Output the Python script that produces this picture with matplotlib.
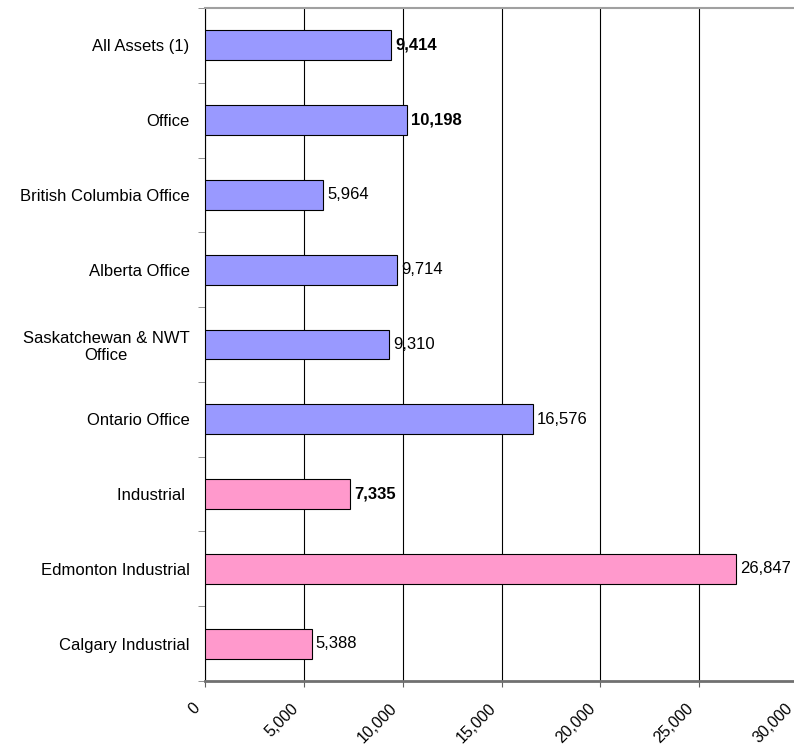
import matplotlib.pyplot as plt
import matplotlib.transforms as mtransforms
import numpy as np

# data
categories = ["All Assets (1)", "Office", "British Columbia Office", "Alberta Office",
              "Saskatchewan & NWT\nOffice", "Ontario Office", "Industrial ",
              "Edmonton Industrial", "Calgary Industrial"]
values = [9414, 10198, 5964, 9714, 9310, 16576, 7335, 26847, 5388]
groups = ["office", "office", "office", "office", "office", "office",
          "industrial", "industrial", "industrial"]
bold_rows = ["All Assets (1)", "Office", "Industrial "]
x_ticks = [0, 5000, 10000, 15000, 20000, 25000, 30000]

colors = {"office": "#9999FF", "industrial": "#FF99CC"}

plt.rcParams["font.family"] = ["Liberation Sans", "DejaVu Sans"]

fig = plt.figure(figsize=(7.94, 7.48), dpi=100)
ax = fig.add_axes([205 / 794, 1 - 681 / 748, (798 - 205) / 794, (681 - 8) / 748])

y = np.arange(len(categories))
ax.barh(y, values, height=0.4, color=[colors[g] for g in groups],
        edgecolor="black", linewidth=0.8, zorder=3)

for yi, v, c in zip(y, values, categories):
    ax.annotate(f"{v:,}", (v, yi), xytext=(3, 0), textcoords="offset points",
                va="center", ha="left", fontsize=12,
                fontweight="bold" if c in bold_rows else "normal")

ax.set_ylim(len(categories) - 0.5, -0.5)
ax.set_xlim(0, 30000)
ax.set_yticks(y)
ax.set_yticklabels(categories, fontsize=12, multialignment="center")
ax.tick_params(axis="y", length=0, pad=11)
# category separator ticks
ax.set_yticks(np.arange(-0.5, len(categories), 1), minor=True)
ax.tick_params(axis="y", which="minor", length=5, color="#808080", direction="out")

ax.set_xticks(x_ticks)
ax.set_xticklabels([f"{t:,}" for t in x_ticks], rotation=45, ha="right",
                   rotation_mode="anchor", fontsize=11.5)
ax.tick_params(axis="x", length=4, color="#606060", pad=10)
# nudge rotated labels left, like the original
shift = mtransforms.ScaledTranslation(-13 / 100, 0, fig.dpi_scale_trans)
for lbl in ax.get_xticklabels():
    lbl.set_transform(lbl.get_transform() + shift)

ax.grid(axis="x", color="black", linewidth=0.8, zorder=0)
ax.set_axisbelow(True)

ax.spines["right"].set_visible(False)
ax.spines["top"].set_color("#a0a0a0")
ax.spines["top"].set_linewidth(1.5)
ax.spines["bottom"].set_color("#707070")
ax.spines["bottom"].set_linewidth(2)
ax.spines["left"].set_color("black")
ax.spines["left"].set_linewidth(0.8)

fig.savefig("out.png", dpi=100)
